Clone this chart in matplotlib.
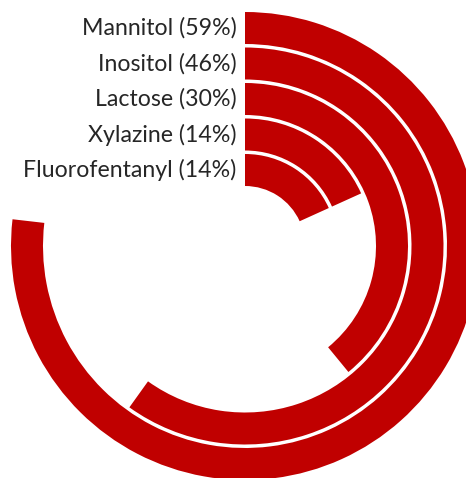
import numpy as np
import matplotlib.pyplot as plt

# data
names = ["Mannitol", "Inositol", "Lactose", "Xylazine", "Fluorofentanyl"]
pcts = [59, 46, 30, 14, 14]

full_circle = 76.8      # percent that would close a full ring
outer = 234             # outer radius of the first ring (pixels)
pitch = 35.5
thick = 32
red = "#C00000"

fig = plt.figure(figsize=(4.66, 4.78), dpi=100)
cx, cy, P = 245, 246, 240
ax = fig.add_axes([(cx - P) / 466, (478 - cy - P) / 478, 2 * P / 466, 2 * P / 478],
                  projection="polar")
ax.set_theta_zero_location("N")
ax.set_theta_direction(-1)
ax.set_ylim(0, P)
ax.axis("off")

for i, (n, v) in enumerate(zip(names, pcts)):
    r_out = outer - i * pitch
    width = v / full_circle * 2 * np.pi
    ax.bar(0, thick, width=width, bottom=r_out - thick, align="edge",
           color=red, edgecolor="none")
    ax.annotate(f"{n} ({v}%)", xy=(0, r_out - thick / 2), xytext=(-6, 0),
                textcoords="offset points", ha="right", va="center",
                fontsize=16.7, family="Lato", color="#262626")

fig.savefig("out.png", dpi=100)
